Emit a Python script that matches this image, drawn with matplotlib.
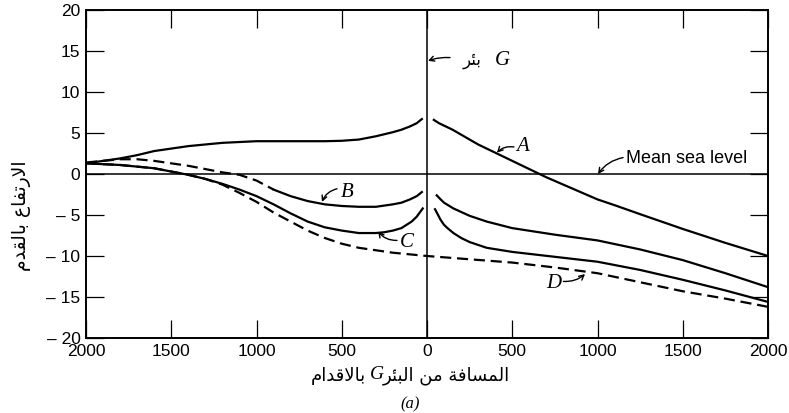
import matplotlib
matplotlib.use("Agg")
import matplotlib.pyplot as plt

# ---- data: distance from well G (ft, negative = left side) and elevation (ft) ----
a_left_x = [-2000, -1900, -1800, -1700, -1600, -1500, -1400, -1300, -1200, -1100, -1000,
            -900, -800, -700, -600, -500, -400, -300, -200, -150, -100, -60, -30]
a_left_y = [1.3, 1.6, 1.9, 2.3, 2.8, 3.1, 3.4, 3.6, 3.8, 3.9, 4.0,
            4.0, 4.0, 4.0, 4.0, 4.05, 4.2, 4.6, 5.1, 5.4, 5.8, 6.2, 6.7]
a_right_x = [40, 70, 100, 150, 200, 300, 400, 500, 600, 700, 800, 900, 1000, 1100, 1250, 1500, 1750, 2000]
a_right_y = [6.6, 6.2, 5.9, 5.4, 4.8, 3.6, 2.6, 1.6, 0.6, -0.4, -1.3, -2.2, -3.1, -3.8, -4.9, -6.7, -8.4, -10.0]

b_left_dash_x = [-2000, -1900, -1800, -1700, -1600, -1500, -1400, -1300, -1200, -1100, -1000, -900]
b_left_dash_y = [1.4, 1.6, 1.8, 1.8, 1.6, 1.3, 1.0, 0.6, 0.2, -0.1, -0.8, -1.9]
b_left_x = [-900, -800, -700, -600, -500, -400, -300, -200, -150, -100, -60, -30]
b_left_y = [-1.9, -2.7, -3.3, -3.7, -3.9, -4.0, -4.0, -3.7, -3.5, -3.1, -2.7, -2.2]
b_right_x = [57, 80, 100, 155, 250, 350, 500, 750, 1000, 1250, 1500, 1750, 2000]
b_right_y = [-2.6, -3.1, -3.5, -4.2, -5.1, -5.8, -6.6, -7.4, -8.1, -9.2, -10.5, -12.1, -13.8]

c_left_x = [-2000, -1900, -1800, -1700, -1600, -1500, -1400, -1300, -1200, -1100, -1000,
            -900, -800, -700, -600, -500, -400, -300, -250, -200, -150, -120, -90, -60, -25]
c_left_y = [1.3, 1.2, 1.1, 0.9, 0.7, 0.3, -0.1, -0.6, -1.2, -1.9, -2.7,
            -3.7, -4.8, -5.8, -6.5, -6.9, -7.2, -7.2, -7.1, -6.9, -6.6, -6.2, -5.8, -5.2, -4.2]
c_right_x = [47, 65, 80, 100, 120, 155, 200, 250, 350, 500, 750, 1000, 1250, 1500, 1750, 2000]
c_right_y = [-4.3, -5.0, -5.6, -6.2, -6.6, -7.2, -7.8, -8.3, -9.0, -9.5, -10.1, -10.7, -11.7, -12.9, -14.2, -15.6]

d_x = [-2000, -1900, -1800, -1700, -1600, -1500, -1400, -1300, -1200, -1100, -1000,
       -900, -800, -700, -600, -500, -400, -300, -200, -100, 0,
       250, 500, 750, 1000, 1250, 1500, 1750, 2000]
d_y = [1.3, 1.2, 1.1, 0.9, 0.7, 0.3, -0.1, -0.6, -1.3, -2.3, -3.4,
       -4.7, -5.8, -6.9, -7.8, -8.5, -9.0, -9.3, -9.6, -9.8, -10.0,
       -10.4, -10.8, -11.4, -12.1, -13.2, -14.3, -15.2, -16.2]

x_ticks = [-2000, -1500, -1000, -500, 0, 500, 1000, 1500, 2000]
x_tick_labels = ["2000", "1500", "1000", "500", "0", "500", "1000", "1500", "2000"]
y_ticks = [-20, -15, -10, -5, 0, 5, 10, 15, 20]
y_tick_labels = ["\u2013 20", "\u2013 15", "\u2013 10", "\u2013 5", "0", "5", "10", "15", "20"]

# ---- minimal Arabic contextual shaping (presentation forms, visual order) ----
_FORMS = {
    "\u0627": ("\uFE8D", "\uFE8E", None, None),
    "\u0628": ("\uFE8F", "\uFE90", "\uFE91", "\uFE92"),
    "\u0629": ("\uFE93", "\uFE94", None, None),
    "\u062A": ("\uFE95", "\uFE96", "\uFE97", "\uFE98"),
    "\u0626": ("\uFE89", "\uFE8A", "\uFE8B", "\uFE8C"),
    "\u0631": ("\uFEAD", "\uFEAE", None, None),
    "\u062F": ("\uFEA9", "\uFEAA", None, None),
    "\u0633": ("\uFEB1", "\uFEB2", "\uFEB3", "\uFEB4"),
    "\u0639": ("\uFEC9", "\uFECA", "\uFECB", "\uFECC"),
    "\u0641": ("\uFED1", "\uFED2", "\uFED3", "\uFED4"),
    "\u0642": ("\uFED5", "\uFED6", "\uFED7", "\uFED8"),
    "\u0644": ("\uFEDD", "\uFEDE", "\uFEDF", "\uFEE0"),
    "\u0645": ("\uFEE1", "\uFEE2", "\uFEE3", "\uFEE4"),
    "\u0646": ("\uFEE5", "\uFEE6", "\uFEE7", "\uFEE8"),
}


def shape_ar(s):
    toks = []
    i = 0
    while i < len(s):
        if s[i] == "\u0644" and i + 1 < len(s) and s[i + 1] == "\u0627":
            toks.append("LA")
            i += 2
        else:
            toks.append(s[i])
            i += 1

    def joins_fwd(t):
        return t in _FORMS and _FORMS[t][2] is not None

    def is_letter(t):
        return t == "LA" or t in _FORMS

    out = []
    for k, t in enumerate(toks):
        if not is_letter(t):
            out.append(t)
            continue
        prev = toks[k - 1] if k > 0 else None
        nxt = toks[k + 1] if k + 1 < len(toks) else None
        jp = prev is not None and joins_fwd(prev)
        if t == "LA":
            out.append("\uFEFC" if jp else "\uFEFB")
            continue
        jn = nxt is not None and is_letter(nxt) and joins_fwd(t)
        iso, fin, ini, med = _FORMS[t]
        out.append(med if (jp and jn) else fin if jp else ini if jn else iso)
    return "".join(reversed(out))


W, H = 789, 413
fig = plt.figure(figsize=(W / 100, H / 100), dpi=100)
ax = fig.add_axes([86 / W, 1 - 338 / H, (768 - 86) / W, (338 - 10) / H])

lw = 1.6
dash = (0, (5, 2.6))
ax.plot(a_left_x, a_left_y, color="black", lw=lw)
ax.plot(a_right_x, a_right_y, color="black", lw=lw)
ax.plot(b_left_dash_x, b_left_dash_y, color="black", lw=lw, linestyle=dash)
ax.plot(b_left_x, b_left_y, color="black", lw=lw)
ax.plot(b_right_x, b_right_y, color="black", lw=lw)
ax.plot(c_left_x, c_left_y, color="black", lw=lw)
ax.plot(c_right_x, c_right_y, color="black", lw=lw)
ax.plot(d_x, d_y, color="black", lw=lw, linestyle=dash)

ax.axhline(0, color="black", lw=1.1)
ax.axvline(0, color="black", lw=1.1)

ax.set_xlim(-2000, 2000)
ax.set_ylim(-20, 20)
ax.set_xticks(x_ticks)
ax.set_xticklabels(x_tick_labels)
ax.set_yticks(y_ticks)
ax.set_yticklabels(y_tick_labels)
ax.tick_params(direction="in", length=13, width=0.9, top=True, right=True,
               labelsize=12.5, pad=4)
for lab in ax.get_xticklabels() + ax.get_yticklabels():
    lab.set_family(["Liberation Sans", "DejaVu Sans"])
for sp in ax.spines.values():
    sp.set_linewidth(1.4)

# curve letters
lab_font = dict(family="Liberation Serif", style="italic", fontsize=15)
arrow = dict(arrowstyle="->,head_length=0.35,head_width=0.18", lw=1.0, color="black",
             shrinkA=0, shrinkB=0)
ax.text(560, 3.4, "A", ha="center", va="center", **lab_font)
ax.annotate("", xy=(410, 2.6), xytext=(510, 3.3),
            arrowprops=dict(connectionstyle="arc3,rad=0.25", **arrow))
ax.text(-470, -2.2, "B", ha="center", va="center", **lab_font)
ax.annotate("", xy=(-616, -3.4), xytext=(-528, -1.8),
            arrowprops=dict(connectionstyle="arc3,rad=0.25", **arrow))
ax.text(-120, -8.4, "C", ha="center", va="center", **lab_font)
ax.annotate("", xy=(-287, -7.0), xytext=(-176, -8.1),
            arrowprops=dict(connectionstyle="arc3,rad=-0.25", **arrow))
ax.text(745, -13.3, "D", ha="center", va="center", **lab_font)
ax.annotate("", xy=(927, -12.2), xytext=(800, -13.1),
            arrowprops=dict(connectionstyle="arc3,rad=0.2", **arrow))

# mean sea level callout
ax.text(1165, 1.9, "Mean sea level", ha="left", va="center",
        family=["Liberation Sans", "DejaVu Sans"], fontsize=13)
ax.annotate("", xy=(1003, 0), xytext=(1150, 2.0),
            arrowprops=dict(connectionstyle="arc3,rad=0.2", **arrow))

# well G callout
ax.text(210, 13.9, shape_ar("\u0628\u0626\u0631"), ha="left", va="center",
        family=["DejaVu Sans"], fontsize=12)
ax.text(400, 13.9, "G", ha="left", va="center", family="Liberation Serif",
        style="italic", fontsize=15)
ax.annotate("", xy=(6, 13.8), xytext=(135, 14.2),
            arrowprops=dict(connectionstyle="arc3,rad=0.1", **arrow))

# axis titles
ylab = shape_ar("\u0627\u0644\u0627\u0631\u062A\u0641\u0627\u0639 \u0628\u0627\u0644\u0642\u062F\u0645")
fig.text(22 / W, 1 - 216 / H, ylab, rotation=90, ha="center", va="center",
         family=["DejaVu Sans"], fontsize=13.5)

xl_y = 1 - 376 / H
fig.text(366 / W, xl_y, shape_ar("\u0628\u0627\u0644\u0627\u0642\u062F\u0627\u0645"),
         ha="right", va="center", family=["DejaVu Sans"], fontsize=13)
fig.text(377 / W, xl_y + 0.004, "G", ha="center", va="center", family="Liberation Serif",
         style="italic", fontsize=14)
fig.text(383 / W, xl_y,
         shape_ar("\u0627\u0644\u0645\u0633\u0627\u0641\u0629 \u0645\u0646 \u0627\u0644\u0628\u0626\u0631"),
         ha="left", va="center", family=["DejaVu Sans"], fontsize=13)
fig.text(410 / W, 1 - 396 / H, "(a)", ha="center", va="top", family="Liberation Serif",
         style="italic", fontsize=12)

fig.savefig("out.png", dpi=100)
